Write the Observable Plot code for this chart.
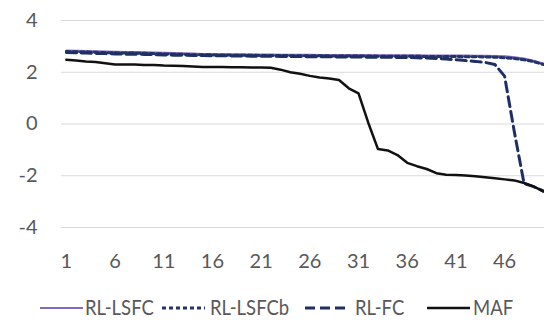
<!DOCTYPE html>
<html>
<head>
<meta charset="utf-8">
<script src="https://cdn.jsdelivr.net/npm/d3@7"></script>
<script src="https://cdn.jsdelivr.net/npm/@observablehq/plot@0.6"></script>
<style>
  body { margin: 0; background: #fff; font-family: Lato, "Open Sans", sans-serif; }
  #chart { position: relative; width: 544px; height: 320px; overflow: hidden; }
  .legend { position: relative; height: 35px; font-size: 21px; color: #595959; }
  .legend svg, .legend span { position: absolute; }
  .legend svg { top: 20px; }
  .legend span { top: 9px; line-height: 26px; white-space: nowrap; transform: scaleX(0.88); transform-origin: left center; }
</style>
</head>
<body>
<div id="chart"></div>
<script>
// Episode index (1..50)
const steps = d3.range(1, 51);
const xTicks = [1, 6, 11, 16, 21, 26, 31, 36, 41, 46];
const yTicks = [-4, -2, 0, 2, 4];

const rlLsfc = [
  2.84, 2.83, 2.82, 2.81, 2.80, 2.79, 2.78, 2.78, 2.77, 2.76,
  2.75, 2.74, 2.73, 2.72, 2.71, 2.71, 2.70, 2.70, 2.70, 2.69,
  2.69, 2.69, 2.68, 2.68, 2.68, 2.68, 2.67, 2.67, 2.67, 2.67,
  2.67, 2.66, 2.66, 2.66, 2.66, 2.66, 2.66, 2.65, 2.65, 2.65,
  2.65, 2.65, 2.64, 2.64, 2.63, 2.62, 2.58, 2.53, 2.45, 2.33
];
const rlLsfcb = [
  2.80, 2.79, 2.78, 2.77, 2.76, 2.75, 2.74, 2.74, 2.73, 2.72,
  2.71, 2.70, 2.69, 2.68, 2.68, 2.67, 2.67, 2.66, 2.66, 2.66,
  2.65, 2.65, 2.65, 2.64, 2.64, 2.64, 2.64, 2.63, 2.63, 2.63,
  2.63, 2.63, 2.62, 2.62, 2.62, 2.62, 2.62, 2.61, 2.61, 2.61,
  2.61, 2.60, 2.60, 2.59, 2.58, 2.56, 2.53, 2.48, 2.41, 2.30
];
const rlFc = [
  2.76, 2.75, 2.74, 2.73, 2.72, 2.71, 2.70, 2.70, 2.69, 2.68,
  2.67, 2.66, 2.66, 2.65, 2.65, 2.64, 2.64, 2.63, 2.63, 2.62,
  2.62, 2.62, 2.61, 2.61, 2.61, 2.60, 2.60, 2.60, 2.59, 2.59,
  2.59, 2.58, 2.58, 2.58, 2.57, 2.57, 2.56, 2.55, 2.53, 2.51,
  2.48, 2.45, 2.42, 2.38, 2.30, 1.85, -0.30, -2.30, -2.42, -2.60
];
const maf = [
  2.48, 2.45, 2.42, 2.40, 2.35, 2.30, 2.30, 2.30, 2.28, 2.28,
  2.26, 2.25, 2.24, 2.22, 2.20, 2.20, 2.20, 2.19, 2.19, 2.18,
  2.18, 2.17, 2.10, 2.00, 1.94, 1.86, 1.80, 1.76, 1.70, 1.38,
  1.18, 0.05, -0.97, -1.02, -1.20, -1.50, -1.63, -1.74, -1.90, -1.96,
  -1.97, -1.99, -2.02, -2.06, -2.10, -2.14, -2.18, -2.28, -2.42, -2.60
];

const seriesNames = ["RL-LSFC", "RL-LSFCb", "RL-FC", "MAF"];
const seriesValues = [rlLsfc, rlLsfcb, rlFc, maf];
const seriesStyle = {
  "RL-LSFC":  { stroke: "#7f6bbf", strokeWidth: 2 },
  "RL-LSFCb": { stroke: "#24336a", strokeWidth: 3, strokeDasharray: "4,3" },
  "RL-FC":    { stroke: "#1f2f66", strokeWidth: 3, strokeDasharray: "10,5" },
  "MAF":      { stroke: "#111111", strokeWidth: 2.5 }
};

const rows = [];
seriesNames.forEach((name, k) => {
  seriesValues[k].forEach((v, i) => rows.push({ step: steps[i], value: v, name }));
});

const plot = Plot.plot({
  width: 544,
  height: 285,
  marginLeft: 61,
  marginRight: 0,
  marginTop: 20,
  marginBottom: 58,
  style: { fontFamily: "Lato, 'Open Sans', sans-serif", fontSize: "20px", color: "#595959", background: "#fff" },
  x: { domain: [0.5, 50.1], label: null },
  y: { domain: [-4, 4], label: null },
  marks: [
    Plot.gridY(yTicks, { stroke: "#d9d9d9", strokeOpacity: 1, strokeWidth: 1 }),
    Plot.axisX(xTicks, { tickSize: 0, tickPadding: 26, fontSize: 20, fill: "#595959", label: null, tickFormat: d => String(d) }),
    Plot.axisY(yTicks, { tickSize: 0, tickPadding: 24, fontSize: 20, fill: "#595959", label: null, tickFormat: d => String(d) }),
    ...seriesNames.map(name =>
      Plot.line(rows.filter(d => d.name === name), {
        x: "step", y: "value",
        ...seriesStyle[name],
        strokeLinejoin: "round"
      })
    )
  ]
});

const chart = document.getElementById("chart");
chart.appendChild(plot);

// Legend row under the plot: swatch and label offsets for each entry
const swatchLeft = [40, 162, 305, 427];
const labelLeft = [85, 210, 355, 473];
const legend = document.createElement("div");
legend.className = "legend";
seriesNames.forEach((name, k) => {
  const s = seriesStyle[name];
  const sw = document.createElementNS("http://www.w3.org/2000/svg", "svg");
  sw.setAttribute("width", 43);
  sw.setAttribute("height", 6);
  sw.style.left = swatchLeft[k] + "px";
  sw.innerHTML = `<line x1="0" x2="43" y1="3" y2="3" stroke="${s.stroke}" stroke-width="${s.strokeWidth}" ${s.strokeDasharray ? `stroke-dasharray="${s.strokeDasharray}"` : ""}/>`;
  const label = document.createElement("span");
  label.style.left = labelLeft[k] + "px";
  label.textContent = name;
  legend.appendChild(sw);
  legend.appendChild(label);
});
chart.appendChild(legend);
</script>
</body>
</html>
